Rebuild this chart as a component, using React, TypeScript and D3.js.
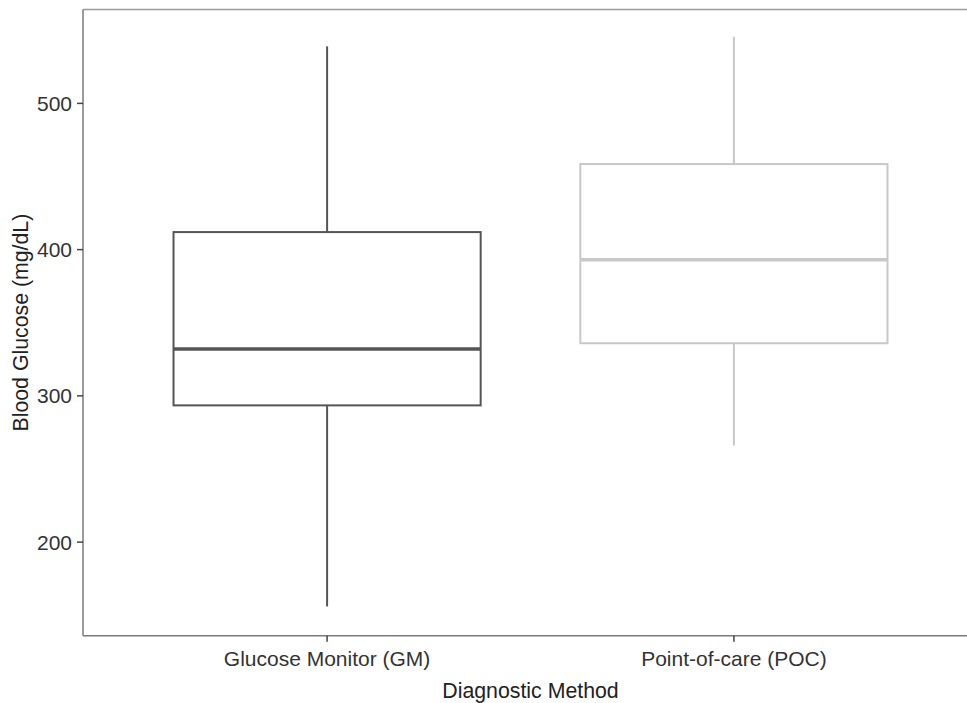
import React from "react";
import * as d3 from "d3";

const categories = ["Glucose Monitor (GM)", "Point-of-care (POC)"];
const whiskerLow = [156, 266];
const q1 = [293.5, 336];
const median = [332, 393];
const q3 = [412, 458.5];
const whiskerHigh = [539, 545.5];
const boxColors = ["#555555", "#c8c8c8"];
const yTicks = [200, 300, 400, 500];

const W = 967;
const H = 703;
const left = 83;
const right = 978;
const top = 9.5;
const bottom = 635.7;

export default function App() {
  const x = d3.scalePoint<string>().domain(categories).range([left, right]).padding(0.6);
  const step = x.step();
  const boxW = step * 0.755;
  const y = d3.scaleLinear().domain([136, 564.2]).range([bottom, top]);

  return (
    <svg width={W} height={H} style={{ position: "absolute", left: 0, top: 0, fontFamily: "Liberation Sans, Arial, sans-serif" }}>
      <rect x={0} y={0} width={W} height={H} fill="#fff" />
      {categories.map((c, i) => {
        const cx = x(c)!;
        const col = boxColors[i];
        return (
          <g key={c}>
            <line x1={cx} x2={cx} y1={y(whiskerHigh[i])} y2={y(q3[i])} stroke={col} strokeWidth={2} />
            <line x1={cx} x2={cx} y1={y(q1[i])} y2={y(whiskerLow[i])} stroke={col} strokeWidth={2} />
            <rect x={cx - boxW / 2} y={y(q3[i])} width={boxW} height={y(q1[i]) - y(q3[i])} fill="#fff" stroke={col} strokeWidth={2} />
            <line x1={cx - boxW / 2} x2={cx + boxW / 2} y1={y(median[i])} y2={y(median[i])} stroke={col} strokeWidth={3.5} />
          </g>
        );
      })}
      <line x1={left} x2={W} y1={top} y2={top} stroke="#9a9a9a" strokeWidth={1.5} />
      <line x1={left} x2={left} y1={top} y2={bottom} stroke="#7a7a7a" strokeWidth={1.5} />
      <line x1={left} x2={W} y1={bottom} y2={bottom} stroke="#7a7a7a" strokeWidth={1.5} />
      {yTicks.map((t) => (
        <g key={t}>
          <line x1={left - 6} x2={left} y1={y(t)} y2={y(t)} stroke="#444" strokeWidth={1.5} />
          <text x={left - 11} y={y(t)} dy="0.36em" textAnchor="end" fontSize={21} fill="#333">{t}</text>
        </g>
      ))}
      {categories.map((c) => (
        <g key={c}>
          <line x1={x(c)!} x2={x(c)!} y1={bottom} y2={bottom + 6} stroke="#444" strokeWidth={1.5} />
          <text x={x(c)!} y={666} textAnchor="middle" fontSize={21} fill="#333">{c}</text>
        </g>
      ))}
      <text x={(left + right) / 2} y={698} textAnchor="middle" fontSize={21.3} fill="#222">Diagnostic Method</text>
      <text transform={`translate(28, ${(top + bottom) / 2}) rotate(-90)`} textAnchor="middle" fontSize={21.3} fill="#222">Blood Glucose (mg/dL)</text>
    </svg>
  );
}
